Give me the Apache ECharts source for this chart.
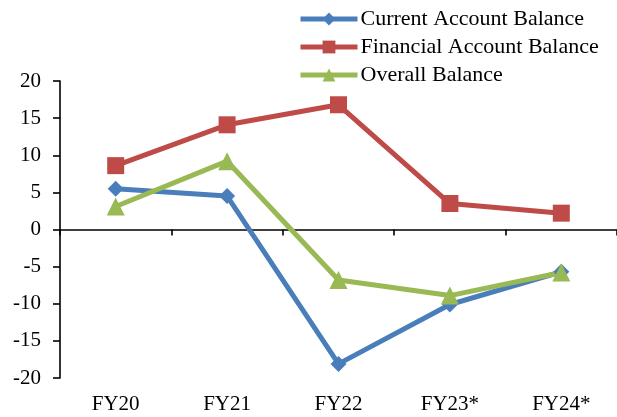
<!DOCTYPE html>
<html><head><meta charset="utf-8">
<script src="https://cdn.jsdelivr.net/npm/echarts@6/dist/echarts.min.js"></script>
<style>html,body{margin:0;padding:0;background:#fff}#c{width:617px;height:417px}</style>
</head><body><div id="c"></div>
<script>
const categories = ['FY20', 'FY21', 'FY22', 'FY23*', 'FY24*'];
const currentAccount = [5.5, 4.5, -18.1, -10.1, -5.7];
const financialAccount = [8.6, 14.1, 16.8, 3.5, 2.2];
const overallBalance = [3.1, 9.2, -6.8, -8.9, -5.8];
const yTicks = { min: -20, max: 20, interval: 5 };

const font = 'Liberation Serif';
const chart = echarts.init(document.getElementById('c'));
chart.setOption({
  animation: false,
  backgroundColor: '#fff',
  textStyle: { fontFamily: font },
  legend: {
    orient: 'vertical', left: 293, top: 3,
    itemWidth: 57, itemHeight: 16, itemGap: 6,
    lineStyle: { width: 5 },
    textStyle: { fontFamily: font, fontSize: 22, color: '#000', padding: [0, 0, 0, -2] },
    data: ['Current Account Balance', 'Financial Account Balance', 'Overall Balance']
  },
  grid: { left: 60, top: 81, bottom: 39, width: 560 },
  xAxis: [{
    type: 'category', data: categories, position: 'bottom', boundaryGap: true,
    axisLine: { onZero: true, lineStyle: { color: '#000', width: 1.6 } },
    axisTick: { show: true, length: 6, lineStyle: { color: '#000', width: 1.6 } },
    axisLabel: { show: false }, splitLine: { show: false }
  }, {
    type: 'category', data: categories, position: 'bottom', boundaryGap: true,
    axisLine: { show: false, onZero: false }, axisTick: { show: false },
    axisLabel: { show: true, margin: 16, fontFamily: font, fontSize: 21, color: '#000' },
    splitLine: { show: false }
  }],
  yAxis: {
    type: 'value', min: yTicks.min, max: yTicks.max, interval: yTicks.interval,
    axisLine: { show: true, lineStyle: { color: '#000', width: 1.6 } },
    axisTick: { show: true, length: 7, lineStyle: { color: '#000', width: 1.6 } },
    axisLabel: { margin: 19, fontFamily: font, fontSize: 21, color: '#000' },
    splitLine: { show: false }
  },
  series: [{
    name: 'Current Account Balance', type: 'line', data: currentAccount,
    symbol: 'diamond', symbolSize: 16,
    lineStyle: { color: '#4A7EBB', width: 5 }, itemStyle: { color: '#4A7EBB' }
  }, {
    name: 'Financial Account Balance', type: 'line', data: financialAccount,
    symbol: 'rect', symbolSize: 17,
    lineStyle: { color: '#BE4B48', width: 5 }, itemStyle: { color: '#BE4B48' }
  }, {
    name: 'Overall Balance', type: 'line', data: overallBalance,
    symbol: 'triangle', symbolSize: 18,
    lineStyle: { color: '#98B954', width: 5 }, itemStyle: { color: '#98B954' }
  }]
});
</script></body></html>
